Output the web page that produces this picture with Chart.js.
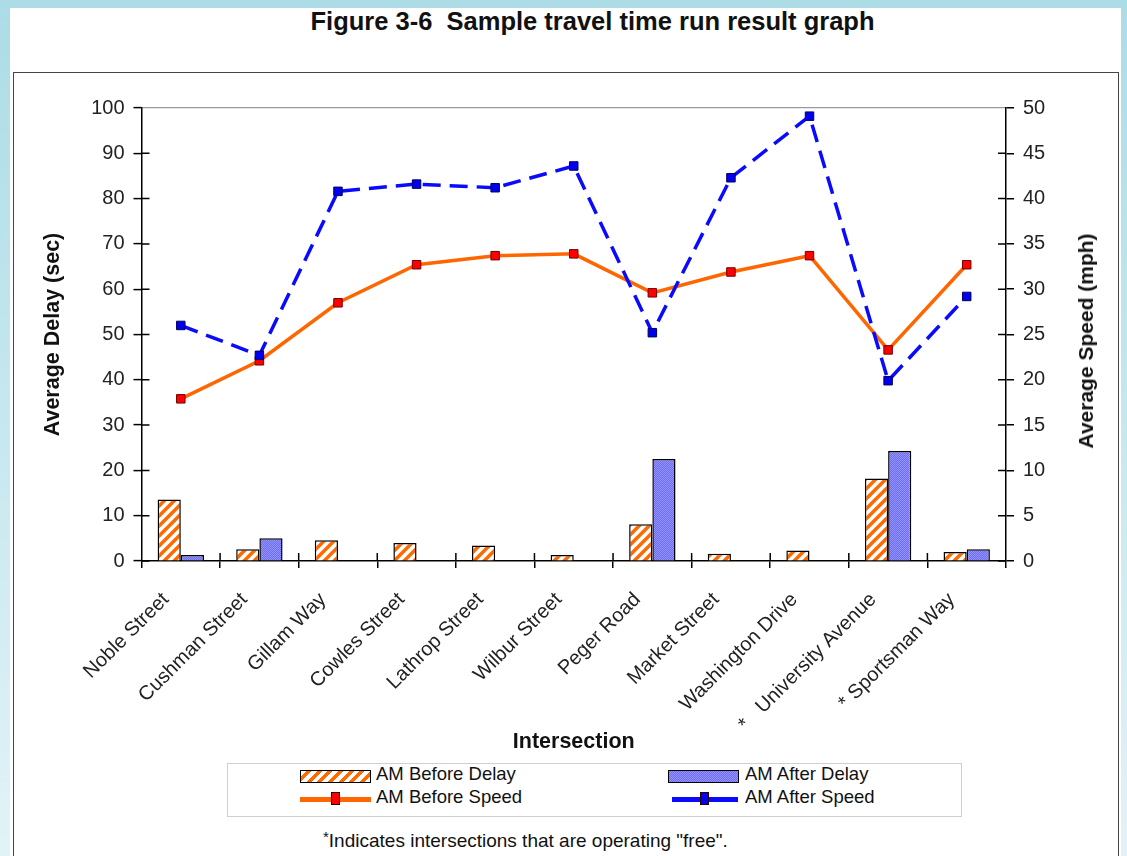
<!DOCTYPE html>
<html>
<head>
<meta charset="utf-8">
<script src="https://cdn.jsdelivr.net/npm/chart.js@4.4.1/dist/chart.umd.min.js"></script>
<style>
body { margin: 0; width: 1127px; height: 856px; overflow: hidden; position: relative;
  background: linear-gradient(#acdce6, #e2f3f7); font-family: "Liberation Sans", Arial, sans-serif; color: #111; }
#page { position: absolute; left: 10px; top: 8px; width: 1111px; height: 848px; background: #fff; }
#title { position: absolute; left: 0; top: 7px; width: 1185px; text-align: center; font-weight: bold; font-size: 25.5px; white-space: pre; }
#box { position: absolute; left: 13px; top: 72px; width: 1106px; height: 820px; border: 1.5px solid #444; box-sizing: border-box; }
#wrap { position: absolute; left: 13px; top: 72px; width: 1105px; height: 685px; }
#speedTitle { position: absolute; left: 1086px; top: 341px; transform: translate(-50%, -50%) rotate(-90deg);
  font-weight: bold; font-size: 21px; white-space: nowrap; }
#legend { position: absolute; left: 227px; top: 763px; width: 735px; height: 54px; border: 1px solid #cfcfcf; box-sizing: border-box; }
.item { position: absolute; font-size: 18.5px; line-height: 20px; white-space: nowrap; }
.sw { position: absolute; }
#note { position: absolute; left: 323px; top: 828px; font-size: 19px; white-space: nowrap; }
#note sup { font-size: 15px; vertical-align: 5px; }
</style>
</head>
<body>
<div id="page"></div>
<div id="title">Figure 3-6  Sample travel time run result graph</div>
<div id="box"></div>
<div id="wrap"><canvas id="chart"></canvas></div>
<div id="speedTitle">Average Speed (mph)</div>
<div id="legend"></div>
<div id="note"><sup>*</sup>Indicates intersections that are operating "free".</div>
<script>
// data
const intersections = ['Noble Street', 'Cushman Street', 'Gillam Way', 'Cowles Street', 'Lathrop Street',
  'Wilbur Street', 'Peger Road', 'Market Street', 'Washington Drive', '*   University Avenue', '* Sportsman Way'];
const beforeDelay = [13.6, 2.6, 4.6, 4.0, 3.4, 1.3, 8.1, 1.6, 2.3, 18.2, 2.0];
const afterDelay = [1.3, 5.0, 0, 0, 0, 0, 22.5, 0, 0, 24.3, 2.6];
const beforeSpeed = [17.9, 22.1, 28.5, 32.7, 33.7, 33.9, 29.6, 31.9, 33.7, 23.3, 32.7];
const afterSpeed = [26.0, 22.7, 40.8, 41.6, 41.2, 43.6, 25.2, 42.3, 49.1, 19.9, 29.2];
const seriesNames = ['AM Before Delay', 'AM After Delay', 'AM Before Speed', 'AM After Speed'];

const tickFont = { family: 'Liberation Sans, Arial, sans-serif', size: 20 };
const titleFont = { family: 'Liberation Sans, Arial, sans-serif', size: 21.5, weight: 'bold' };

// fill patterns for the bars
function hatchPattern() {
  const c = document.createElement('canvas');
  c.width = c.height = 10;
  const g = c.getContext('2d');
  g.fillStyle = '#fff';
  g.fillRect(0, 0, 10, 10);
  g.strokeStyle = '#ff6a00';
  g.lineWidth = 3.5;
  g.beginPath();
  g.moveTo(-5, 5); g.lineTo(5, -5);
  g.moveTo(0, 10); g.lineTo(10, 0);
  g.moveTo(5, 15); g.lineTo(15, 5);
  g.stroke();
  return g.createPattern(c, 'repeat');
}
function dotPattern() {
  const c = document.createElement('canvas');
  c.width = c.height = 2;
  const g = c.getContext('2d');
  g.fillStyle = '#9494ff';
  g.fillRect(0, 0, 2, 2);
  g.fillStyle = '#6c6cf4';
  g.fillRect(0, 0, 1, 1);
  g.fillRect(1, 1, 1, 1);
  return g.createPattern(c, 'repeat');
}

// tick marks that cross the axis lines (inner half)
const innerTicks = {
  id: 'innerTicks',
  afterDraw(chart) {
    const { ctx, scales } = chart;
    const y = scales.y, y2 = scales.y2, x = scales.x;
    ctx.save();
    ctx.strokeStyle = '#000';
    ctx.lineWidth = 1.5;
    ctx.beginPath();
    y.ticks.forEach((t, i) => {
      if (t.value === y.max) return;
      const p = y.getPixelForTick(i);
      ctx.moveTo(y.right, p); ctx.lineTo(y.right + 8, p);
    });
    y2.ticks.forEach((t, i) => {
      if (t.value === y2.max) return;
      const p = y2.getPixelForTick(i);
      ctx.moveTo(y2.left, p); ctx.lineTo(y2.left - 8, p);
    });
    for (let i = 1; i < intersections.length; i++) {
      const p = x.getPixelForValue(i - 0.5);
      ctx.moveTo(p, x.top); ctx.lineTo(p, x.top - 8);
    }
    ctx.stroke();
    ctx.restore();
  }
};

const chart = new Chart(document.getElementById('chart'), {
  type: 'bar',
  data: {
    labels: intersections,
    datasets: [
      { label: seriesNames[2], type: 'line', data: beforeSpeed, yAxisID: 'y2', order: 1,
        borderColor: '#ff6600', borderWidth: 3.5, tension: 0,
        pointStyle: 'rect', pointRadius: 6, pointBackgroundColor: '#ff0000', pointBorderColor: '#700000', pointBorderWidth: 1 },
      { label: seriesNames[3], type: 'line', data: afterSpeed, yAxisID: 'y2', order: 0,
        borderColor: '#0a0aff', borderWidth: 3.5, borderDash: [18, 9], tension: 0,
        pointStyle: 'rect', pointRadius: 6, pointBackgroundColor: '#0000ee', pointBorderColor: '#000060', pointBorderWidth: 1 },
      { label: seriesNames[0], data: beforeDelay, yAxisID: 'y', order: 2,
        backgroundColor: hatchPattern(), borderColor: '#000', borderWidth: 1.5 },
      { label: seriesNames[1], data: afterDelay, yAxisID: 'y', order: 2,
        backgroundColor: dotPattern(), borderColor: '#000', borderWidth: 1.5 }
    ]
  },
  options: {
    responsive: true,
    maintainAspectRatio: false,
    animation: false,
    datasets: { bar: { categoryPercentage: 0.59, barPercentage: 1.0 } },
    layout: { padding: { top: 36, left: 0, right: 0, bottom: 0 } },
    plugins: { legend: { display: false }, tooltip: { enabled: false } },
    scales: {
      x: {
        afterFit: s => { s.height = 196; },
        grid: { drawOnChartArea: false, color: '#000', tickLength: 7, lineWidth: 1.5, offset: true },
        border: { color: '#000', width: 1.5 },
        ticks: { font: tickFont, color: '#222', minRotation: 45, maxRotation: 45, autoSkip: false,
          padding: 20, labelOffset: -15 },
        title: { display: true, text: 'Intersection', font: titleFont, color: '#111', padding: { top: 0, bottom: 2 } }
      },
      y: {
        position: 'left', min: 0, max: 100,
        afterFit: s => { s.width = 128.5; },
        grid: { drawOnChartArea: true, color: c => (c.tick && c.tick.value === 100 ? '#9a9a9a' : 'rgba(0,0,0,0)'),
          tickColor: '#000', tickLength: 8, lineWidth: 1.2, tickWidth: 1.5 },
        border: { color: '#000', width: 1.5 },
        ticks: { stepSize: 10, font: tickFont, color: '#222', padding: 9 },
        title: { display: true, text: 'Average Delay (sec)', font: titleFont, color: '#111', padding: { top: 27, bottom: 0 } }
      },
      y2: {
        position: 'right', min: 0, max: 50,
        afterFit: s => { s.width = 112; },
        grid: { drawOnChartArea: false, color: '#000', tickLength: 8, lineWidth: 1.5 },
        border: { color: '#000', width: 1.5 },
        ticks: { stepSize: 5, font: tickFont, color: '#222', padding: 9 }
      }
    }
  },
  plugins: [innerTicks]
});

// legend box, two columns
const legend = document.getElementById('legend');
const legendItems = [
  { name: seriesNames[0], col: 0, row: 0, kind: 'hatch' },
  { name: seriesNames[1], col: 1, row: 0, kind: 'dots' },
  { name: seriesNames[2], col: 0, row: 1, kind: 'orange' },
  { name: seriesNames[3], col: 1, row: 1, kind: 'blue' }
];
legendItems.forEach(it => {
  const swLeft = it.col ? 440 : 72;
  const rowY = it.row ? 33 : 10;
  const sw = document.createElement('div');
  sw.className = 'sw';
  if (it.kind === 'hatch' || it.kind === 'dots') {
    sw.style.cssText = `left:${swLeft}px;top:${rowY - 4}px;width:71px;height:13px;border:1.5px solid #000;box-sizing:border-box;` +
      (it.kind === 'hatch'
        ? 'background:repeating-linear-gradient(135deg,#fff 0 4px,#ff6a00 4px 7.5px);'
        : 'background:repeating-conic-gradient(#6c6cf4 0 25%,#9494ff 0 50%) 0 0/2px 2px;');
  } else {
    const col = it.kind === 'orange' ? '#ff6600' : '#0a0aff';
    const mk = it.kind === 'orange' ? '#ff0000' : '#0000ee';
    const w = it.kind === 'orange' ? 71 : 66;
    const l = it.kind === 'orange' ? swLeft : swLeft + 4;
    sw.style.cssText = `left:${l}px;top:${rowY}px;width:${w}px;height:5px;background:${col};`;
    const m = document.createElement('div');
    m.style.cssText = `position:absolute;left:${w / 2 - 5}px;top:-5px;width:9px;height:13px;background:${mk};border:1px solid #300;box-sizing:border-box;`;
    sw.appendChild(m);
  }
  legend.appendChild(sw);
  const t = document.createElement('div');
  t.className = 'item';
  t.textContent = it.name;
  t.style.left = (it.col ? 517 : 148) + 'px';
  t.style.top = (rowY - 10) + 'px';
  legend.appendChild(t);
});
</script>
</body>
</html>
